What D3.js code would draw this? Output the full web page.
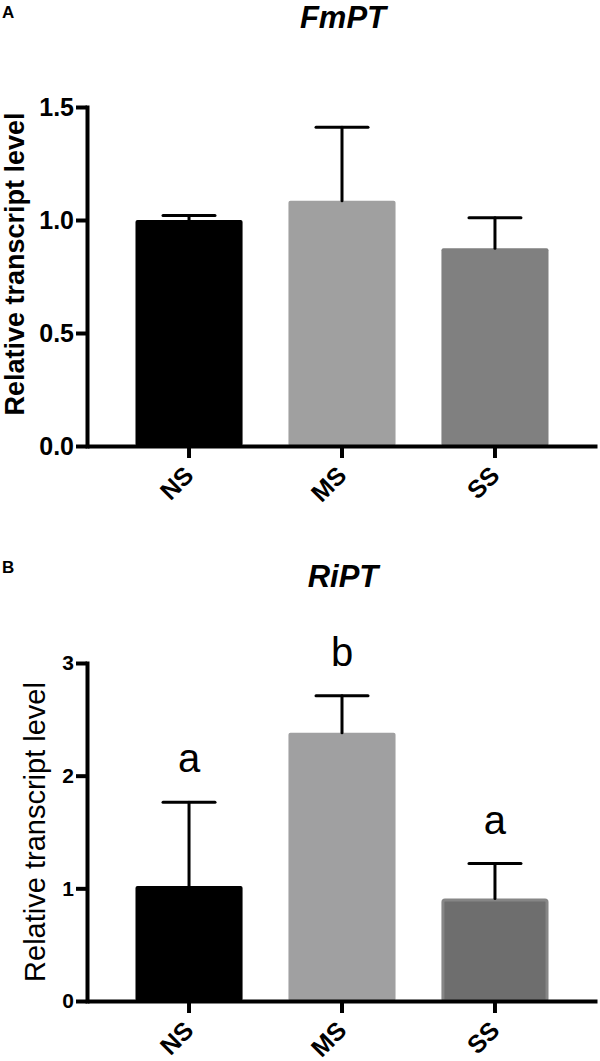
<!DOCTYPE html>
<html>
<head>
<meta charset="utf-8">
<script src="https://cdn.jsdelivr.net/npm/d3@7"></script>
<style>
  body { margin: 0; background: #fff; }
  svg { font-family: "Liberation Sans", Arial, sans-serif; display: block; }
</style>
</head>
<body>
<svg id="chart" width="600" height="1061"></svg>
<script>
// groups shared by both panels
var groups = ["NS", "MS", "SS"];

// panel A: FmPT
var fmptMeans = [1.00, 1.085, 0.875];
var fmptErr = [0.02, 0.325, 0.135];
var fmptTicks = [0, 0.5, 1.0, 1.5];

// panel B: RiPT
var riptMeans = [1.02, 2.38, 0.91];
var riptErr = [0.745, 0.33, 0.31];
var riptTicks = [0, 1, 2, 3];
var riptLetters = ["a", "b", "a"];

var svg = d3.select("#chart");

function drawPanel(o) {
    var g = svg.append("g");

    var x = d3.scaleBand()
        .domain(groups)
        .range([87, 597])
        .paddingInner(0.3)
        .paddingOuter(0.317);

    var y = d3.scaleLinear()
        .domain([0, o.max])
        .range([o.bottom, o.top]);

    var rows = groups.map(function (k, i) {
        return { key: k, mean: o.means[i], err: o.errs[i], fill: o.fills[i], stroke: o.strokes[i], letter: o.letters ? o.letters[i] : null };
    });

    // bars
    g.selectAll("rect.bar")
        .data(rows)
        .enter()
        .append("rect")
        .attr("class", "bar")
        .attr("x", function (d) { return x(d.key) + (d.stroke ? 1.5 : 0); })
        .attr("width", function (d) { return x.bandwidth() - (d.stroke ? 3 : 0); })
        .attr("y", function (d) { return y(d.mean) + (d.stroke ? 1.5 : 0); })
        .attr("height", function (d) { return y(0) - y(d.mean) - (d.stroke ? 1.5 : 0); })
        .attr("rx", 2)
        .attr("fill", function (d) { return d.fill; })
        .attr("stroke", function (d) { return d.stroke || "none"; })
        .attr("stroke-width", 3);

    // error bars (upper only)
    var eb = g.selectAll("g.err")
        .data(rows)
        .enter()
        .append("g")
        .attr("class", "err")
        .attr("stroke", "#000")
        .attr("stroke-width", 3)
        .attr("stroke-linecap", "round");

    eb.append("line")
        .attr("x1", function (d) { return x(d.key) + x.bandwidth() / 2; })
        .attr("x2", function (d) { return x(d.key) + x.bandwidth() / 2; })
        .attr("y1", function (d) { return y(d.mean); })
        .attr("y2", function (d) { return y(d.mean + d.err); });

    eb.append("line")
        .attr("x1", function (d) { return x(d.key) + x.bandwidth() / 2 - 26; })
        .attr("x2", function (d) { return x(d.key) + x.bandwidth() / 2 + 26; })
        .attr("y1", function (d) { return y(d.mean + d.err); })
        .attr("y2", function (d) { return y(d.mean + d.err); });

    // significance letters
    if (o.letters) {
        g.selectAll("text.sig")
            .data(rows)
            .enter()
            .append("text")
            .attr("class", "sig")
            .attr("x", function (d) { return x(d.key) + x.bandwidth() / 2; })
            .attr("y", function (d) { return y(d.mean + d.err) - 30; })
            .attr("text-anchor", "middle")
            .attr("font-size", 40)
            .text(function (d) { return d.letter; });
    }

    // y axis
    var yAxis = g.append("g")
        .attr("transform", "translate(87,0)")
        .call(d3.axisLeft(y).tickValues(o.ticks).tickFormat(o.fmt).tickSize(11).tickSizeOuter(0).tickPadding(2));
    yAxis.select(".domain").attr("stroke-width", 4).attr("stroke-linecap", "square");
    yAxis.selectAll(".tick line").attr("stroke-width", 4);
    yAxis.selectAll(".tick text")
        .attr("fill", "#000")
        .attr("font-size", o.tickFont)
        .attr("font-weight", "bold")
        .attr("font-family", "Liberation Sans, Arial, sans-serif");

    // x axis
    var xAxis = g.append("g")
        .attr("transform", "translate(0," + o.bottom + ")")
        .call(d3.axisBottom(x).tickSize(12).tickSizeOuter(0));
    xAxis.select(".domain").attr("stroke-width", 4);
    xAxis.selectAll(".tick line").attr("stroke-width", 4);
    xAxis.selectAll(".tick text")
        .attr("fill", "#000")
        .attr("font-size", 25)
        .attr("font-weight", "bold")
        .attr("font-family", "Liberation Sans, Arial, sans-serif")
        .attr("text-anchor", "end")
        .attr("dy", null)
        .attr("y", null)
        .attr("transform", "translate(6,31) rotate(-45)");

    // y label
    g.append("text")
        .attr("transform", "translate(" + o.labelX + "," + o.labelY + ") rotate(-90)")
        .attr("text-anchor", "middle")
        .attr("font-size", o.labelFont)
        .attr("font-weight", o.labelWeight)
        .text("Relative transcript level");

    // title
    g.append("text")
        .attr("x", 343)
        .attr("y", o.titleY)
        .attr("text-anchor", "middle")
        .attr("font-size", 31)
        .attr("font-weight", "bold")
        .attr("font-style", "italic")
        .text(o.title);

    // panel letter
    g.append("text")
        .attr("x", 2)
        .attr("y", o.panelY)
        .attr("font-size", 17)
        .attr("font-weight", "bold")
        .text(o.panel);
}

drawPanel({
    panel: "A", panelY: 18,
    title: "FmPT", titleY: 28,
    means: fmptMeans, errs: fmptErr,
    fills: ["#000000", "#a0a0a0", "#808080"],
    strokes: [null, null, null],
    max: 1.5, top: 107, bottom: 446,
    ticks: fmptTicks, fmt: d3.format(".1f"), tickFont: 25,
    labelX: 24, labelY: 264, labelFont: 27, labelWeight: "bold"
});

drawPanel({
    panel: "B", panelY: 573,
    title: "RiPT", titleY: 587,
    means: riptMeans, errs: riptErr, letters: riptLetters,
    fills: ["#000000", "#a0a0a1", "#6e6e6e"],
    strokes: [null, null, "#868686"],
    max: 3, top: 663, bottom: 1001,
    ticks: riptTicks, fmt: d3.format("d"), tickFont: 21,
    labelX: 45, labelY: 832, labelFont: 29, labelWeight: "normal"
});
</script>
</body>
</html>
